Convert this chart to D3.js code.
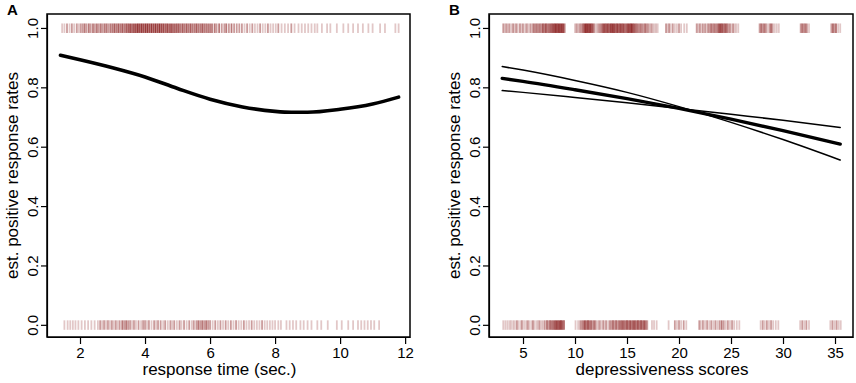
<!DOCTYPE html>
<html>
<head>
<meta charset="utf-8">
<script src="https://cdn.jsdelivr.net/npm/d3@7"></script>
<style>
  html, body { margin: 0; padding: 0; background: #fff; }
  svg { display: block; }
  text { font-family: "Liberation Sans", Arial, sans-serif; fill: #000; }
</style>
</head>
<body>
<svg id="chart" width="856" height="383"></svg>
<script>
// ---------- data ----------
const panelLabels = ["A", "B"];
const xTitles = ["response time (sec.)", "depressiveness scores"];
const yTitle = "est. positive response rates";
const yTicks = [0.0, 0.2, 0.4, 0.6, 0.8, 1.0];
const xTicksA = [2, 4, 6, 8, 10, 12];
const xTicksB = [5, 10, 15, 20, 25, 30, 35];

// Panel A fitted curve
const curveAx = [1.4, 2, 3, 4, 5, 6, 7, 8, 8.5, 9, 10, 11, 11.8];
const curveAy = [0.908, 0.893, 0.866, 0.835, 0.796, 0.760, 0.734, 0.719, 0.716, 0.716, 0.726, 0.744, 0.767];

// Panel B fitted line and confidence band
const lineBx = [3, 5, 10, 15, 20, 25, 30, 35.5];
const lineBy = [0.830, 0.820, 0.792, 0.762, 0.729, 0.693, 0.654, 0.609];
const upperBy = [0.870, 0.858, 0.823, 0.783, 0.735, 0.682, 0.624, 0.555];
const lowerBy = [0.789, 0.783, 0.766, 0.748, 0.729, 0.709, 0.689, 0.665];

// Rug data: [x, count] (observed responses at 1 and at 0)
const rugA1 = [[1.45,1],[1.52,1],[1.6,2],[1.68,1],[1.75,2],[1.82,1],[1.9,2],[1.96,1],
[2.02,2],[2.08,2],[2.14,3],[2.2,2],[2.27,3],[2.33,2],[2.4,3],[2.46,2],[2.52,3],[2.58,2],[2.64,3],[2.7,2],[2.76,3],[2.82,3],[2.88,2],[2.94,3],
[3.0,3],[3.06,4],[3.12,3],[3.18,4],[3.24,3],[3.3,4],[3.36,3],[3.42,4],[3.48,4],[3.54,5],[3.6,4],[3.66,5],[3.72,5],[3.78,6],[3.84,5],[3.9,6],[3.96,5],
[4.02,6],[4.08,6],[4.14,5],[4.2,6],[4.26,5],[4.32,6],[4.38,5],[4.44,6],[4.5,5],[4.56,5],[4.62,4],[4.68,5],[4.74,4],[4.8,5],[4.86,4],[4.92,4],[4.98,4],
[5.04,4],[5.1,3],[5.16,4],[5.22,3],[5.28,4],[5.34,3],[5.4,4],[5.46,3],[5.52,3],[5.58,4],[5.64,3],[5.7,3],[5.76,4],[5.82,3],[5.88,3],[5.94,3],
[6.0,3],[6.06,3],[6.14,3],[6.2,2],[6.28,3],[6.36,2],[6.44,2],[6.5,3],[6.58,2],[6.66,3],[6.74,2],[6.82,2],[6.9,2],[6.98,2],
[7.06,1],[7.14,2],[7.22,1],[7.3,2],[7.38,1],[7.46,1],[7.54,2],[7.62,1],[7.7,1],[7.78,2],[7.86,1],[7.94,1],
[8.02,1],[8.1,2],[8.2,1],[8.3,1],[8.4,1],[8.5,2],[8.6,1],[8.72,1],[8.82,1],[8.92,1],[9.02,1],[9.12,1],[9.22,1],[9.3,1],
[9.44,1],[9.6,1],[9.7,1],[9.9,1],[10.1,1],[10.25,1],[10.4,1],[10.55,1],[10.7,1],[10.87,1],[11.0,1],[11.23,1],[11.38,1],[11.7,1],[11.8,1]];

const rugA0 = [[1.52,1],[1.62,1],[1.7,1],[1.78,1],[1.86,1],[1.95,1],[2.05,1],[2.15,1],[2.25,1],[2.35,1],[2.45,1],[2.55,1],
[2.62,2],[2.68,1],[2.74,2],[2.8,1],[2.86,2],[2.92,1],[2.98,2],[3.04,1],[3.1,2],[3.16,1],[3.22,2],[3.3,3],[3.36,2],[3.42,3],[3.48,2],[3.54,2],[3.6,1],[3.66,2],[3.72,1],[3.8,2],[3.88,1],[3.94,2],
[4.0,2],[4.06,1],[4.12,2],[4.2,1],[4.28,2],[4.34,1],[4.4,2],[4.48,2],[4.56,1],[4.62,2],[4.7,1],[4.78,2],[4.84,1],[4.9,2],[4.98,1],
[5.06,2],[5.12,1],[5.2,2],[5.28,1],[5.36,2],[5.44,1],[5.5,2],[5.58,2],[5.64,3],[5.7,2],[5.76,3],[5.82,2],[5.88,3],[5.94,2],
[6.0,2],[6.08,1],[6.16,2],[6.24,1],[6.32,2],[6.4,1],[6.48,2],[6.56,1],[6.64,2],[6.72,1],[6.8,2],[6.88,1],[6.96,1],
[7.04,2],[7.12,1],[7.2,1],[7.28,2],[7.36,1],[7.44,1],[7.52,1],[7.6,2],[7.68,1],[7.76,1],[7.84,1],[7.92,1],[8.0,1],[8.1,1],[8.18,1],
[8.35,1],[8.45,1],[8.55,1],[8.65,1],[8.78,1],[8.88,1],[9.0,1],[9.12,1],[9.3,1],[9.42,1],[9.62,1],
[9.9,1],[10.05,1],[10.25,1],[10.4,1],[10.55,1],[10.65,1],[10.75,1],[10.85,1],[10.95,1],[11.05,1],[11.2,1]];

const rugB1 = [[3.1,2],[3.25,1],[3.4,2],[3.55,1],[3.7,2],[3.9,1],[4.05,2],[4.2,1],[4.35,2],[4.5,1],[4.7,2],[4.85,1],[5.0,2],[5.2,1],[5.35,2],[5.5,1],[5.7,2],[5.85,1],
[6.0,3],[6.15,2],[6.3,3],[6.45,2],[6.6,3],[6.75,2],[6.9,4],[7.05,3],[7.2,4],[7.35,3],[7.5,3],[7.65,4],[7.8,4],[7.95,5],[8.1,6],[8.25,5],[8.4,6],[8.55,5],[8.7,6],[8.85,5],[9.0,3],
[10.0,1],[10.15,2],[10.3,1],[10.45,2],[10.6,2],[10.75,3],[10.9,5],[11.05,6],[11.2,6],[11.35,5],[11.5,6],[11.65,4],[11.8,3],[11.95,1],[12.1,1],[12.25,2],[12.4,2],[12.55,3],[12.7,4],[12.85,5],[13.0,4],[13.15,5],[13.3,4],[13.45,5],[13.6,6],[13.75,5],[13.9,4],[14.05,5],[14.2,4],[14.35,5],[14.5,4],[14.65,5],[14.8,3],[14.95,4],[15.1,5],[15.25,5],[15.4,6],[15.55,5],[15.7,4],[15.85,3],[16.0,3],[16.15,2],[16.3,3],[16.45,2],[16.6,2],[16.75,3],[16.9,2],[17.05,2],[17.2,1],[17.35,2],[17.5,1],[17.65,1],[17.8,1],[17.95,1],
[18.75,2],[18.9,1],[19.05,2],[19.2,1],[19.4,2],[19.6,1],[19.8,1],[20.0,2],[20.2,1],[20.5,1],[20.75,1],
[21.7,2],[21.85,1],[22.0,2],[22.15,1],[22.3,2],[22.5,2],[22.65,1],[22.8,2],[22.95,2],[23.1,3],[23.25,2],[23.4,3],[23.55,2],[23.7,3],[23.85,4],[24.0,5],[24.15,4],[24.3,3],[24.45,4],[24.6,3],[24.75,2],[24.9,2],[25.05,1],[25.2,2],[25.35,1],[25.5,1],[25.7,1],
[27.75,2],[27.9,3],[28.05,2],[28.2,3],[28.35,2],[28.5,1],[28.7,2],[28.85,3],[29.0,2],[29.2,1],[29.4,1],[29.6,1],
[31.7,2],[31.85,3],[32.0,2],[32.15,3],[32.3,2],[32.5,1],
[34.65,2],[34.8,3],[34.95,2],[35.1,3],[35.3,1],[35.5,1]];

const rugB0 = [[3.1,1],[3.3,1],[3.5,1],[3.7,1],[3.85,1],[4.05,1],[4.2,1],[4.4,2],[4.55,1],[4.75,1],[4.9,2],[5.1,1],[5.3,1],[5.45,2],[5.6,1],[5.8,1],[5.95,2],[6.1,1],[6.3,1],[6.45,1],[6.6,2],[6.8,1],[6.95,1],[7.1,2],[7.3,3],[7.45,2],[7.6,3],[7.75,3],[7.9,3],[8.05,4],[8.2,5],[8.35,4],[8.5,5],[8.65,5],[8.8,4],[8.95,3],
[10.05,1],[10.3,1],[10.5,2],[10.65,2],[10.8,3],[10.95,4],[11.1,3],[11.25,4],[11.4,3],[11.55,3],[11.7,2],[11.85,3],[12.0,2],[12.2,1],[12.35,2],[12.5,1],[12.7,2],[12.85,1],[13.0,2],[13.2,1],[13.35,2],[13.5,2],[13.65,3],[13.8,2],[13.95,3],[14.1,2],[14.25,3],[14.4,3],[14.55,4],[14.7,3],[14.85,3],[15.0,4],[15.15,3],[15.3,4],[15.45,3],[15.6,4],[15.75,4],[15.9,3],[16.05,4],[16.2,3],[16.35,4],[16.5,3],[16.65,4],[16.8,3],[16.95,2],
[17.4,1],[17.6,1],[17.85,1],[19.0,1],
[19.6,2],[19.8,1],[20.0,2],[20.2,1],[20.45,2],[20.7,1],
[21.95,2],[22.1,1],[22.3,2],[22.5,1],[22.7,2],[22.9,1],[23.1,2],[23.3,1],[23.5,2],[23.7,1],[23.9,2],[24.1,3],[24.3,2],[24.5,1],[24.7,2],[24.9,1],[25.1,2],[25.3,1],[25.55,1],[25.8,1],
[27.85,1],[28.05,2],[28.25,1],[28.45,2],[28.65,1],[28.85,2],[29.05,1],[29.3,1],[29.55,1],
[31.65,1],[31.85,2],[32.05,1],[32.25,2],[32.5,1],
[34.55,1],[34.75,2],[34.95,1],[35.15,2],[35.35,1],[35.55,1]];

// ---------- drawing ----------
const svg = d3.select("#chart");
const plotTop = 14, plotBottom = 337;
const y = d3.scaleLinear().domain([-0.041, 1.047]).range([plotBottom, plotTop]);
const rugColor = "#7a0000", rugAlpha = 0.22;

const panels = [
  { label: panelLabels[0], left: 47, right: 410, domain: [0.985, 12.15], ticks: xTicksA, title: xTitles[0], titleShift: -9 },
  { label: panelLabels[1], left: 489, right: 853, domain: [1.73, 36.73], ticks: xTicksB, title: xTitles[1], titleShift: -9 }
];

function drawPanel(p, idx) {
  const g = svg.append("g");
  const x = d3.scaleLinear().domain(p.domain).range([p.left, p.right]);

  // rugs
  const rugs = idx === 0 ? [[rugA1, 1], [rugA0, 0]] : [[rugB1, 1], [rugB0, 0]];
  rugs.forEach(([arr, v]) => {
    g.append("g").selectAll("line").data(arr).join("line")
      .attr("x1", d => x(d[0])).attr("x2", d => x(d[0]))
      .attr("y1", y(v) - 4.5).attr("y2", y(v) + 5)
      .attr("stroke", rugColor).attr("stroke-width", 1.8)
      .attr("stroke-opacity", d => 1 - Math.pow(1 - rugAlpha, d[1]));
  });

  // lines
  const line = d3.line().x(d => x(d[0])).y(d => y(d[1])).curve(d3.curveMonotoneX);
  if (idx === 0) {
    g.append("path").datum(d3.zip(curveAx, curveAy)).attr("d", line)
      .attr("fill", "none").attr("stroke", "#000").attr("stroke-width", 3.6).attr("stroke-linecap", "round");
  } else {
    [[upperBy, 1.5], [lowerBy, 1.5], [lineBy, 3.4]].forEach(([ys, w]) => {
      g.append("path").datum(d3.zip(lineBx, ys)).attr("d", line)
        .attr("fill", "none").attr("stroke", "#000").attr("stroke-width", w).attr("stroke-linecap", "round");
    });
  }

  // box
  g.append("rect").attr("x", p.left).attr("y", plotTop)
    .attr("width", p.right - p.left).attr("height", plotBottom - plotTop)
    .attr("fill", "none").attr("stroke", "#000").attr("stroke-width", 1.5);

  // x axis
  const xa = g.append("g").attr("transform", `translate(0,${plotBottom})`)
    .call(d3.axisBottom(x).tickValues(p.ticks).tickSize(7).tickPadding(4).tickFormat(d3.format("d")).tickSizeOuter(0));
  xa.select(".domain").attr("stroke-width", 1.2);
  xa.selectAll(".tick line").attr("stroke-width", 1.2);
  xa.selectAll(".tick text").attr("font-size", 15).attr("font-family", "Liberation Sans, Arial, sans-serif")
    .attr("y", null).attr("dy", null).attr("transform", "translate(0,20.5)");

  // y axis
  const ya = g.append("g").attr("transform", `translate(${p.left},0)`)
    .call(d3.axisLeft(y).tickValues(yTicks).tickSize(6).tickFormat(d3.format(".1f")).tickSizeOuter(0));
  ya.select(".domain").attr("stroke-width", 1.2);
  ya.selectAll(".tick line").attr("stroke-width", 1.2);
  ya.selectAll(".tick text").attr("font-size", 15).attr("font-family", "Liberation Sans, Arial, sans-serif")
    .attr("x", null).attr("dy", null).attr("text-anchor", "middle")
    .attr("transform", "translate(-9,0) rotate(-90)");

  // titles
  g.append("text").attr("x", (p.left + p.right) / 2 + p.titleShift).attr("y", 375)
    .attr("text-anchor", "middle").attr("font-size", 17).text(p.title);
  g.append("text").attr("transform", `translate(${p.left - 29},${(plotTop + plotBottom) / 2}) rotate(-90)`)
    .attr("text-anchor", "middle").attr("font-size", 17).text(yTitle);
  g.append("text").attr("x", p.left - 40).attr("y", 15)
    .attr("font-size", 15).attr("font-weight", "bold").text(p.label);
}
panels.forEach(drawPanel);
</script>
</body>
</html>
